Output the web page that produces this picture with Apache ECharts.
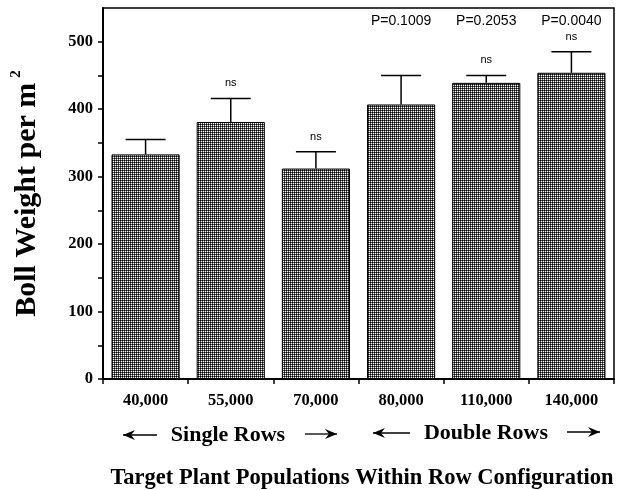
<!DOCTYPE html>
<html><head><meta charset="utf-8">
<script src="https://cdn.jsdelivr.net/npm/echarts@6/dist/echarts.min.js"></script>
<style>html,body{margin:0;padding:0;background:#fff}#c{width:621px;height:490px}</style>
</head><body><div id="c"></div>
<script>
var categories = ['40,000','55,000','70,000','80,000','110,000','140,000'];
var means = [333, 381, 312, 407, 439, 454];
var errorTops = [355, 416, 337, 450, 450, 485];
var nsLabels = ['', 'ns', 'ns', '', 'ns', 'ns'];
var pLabels = ['', '', '', 'P=0.1009', 'P=0.2053', 'P=0.0040'];
var yTickLabels = [0, 100, 200, 300, 400, 500];
var yTickMarks = [0, 50, 100, 150, 200, 250, 300, 350, 400, 450, 500];
var groupLabels = ['Single Rows', 'Double Rows'];

var serif = '"Liberation Serif","Times New Roman",serif';
var sans = '"Liberation Sans",Arial,sans-serif';

// dithered gray pattern
var pc = document.createElement('canvas');
pc.width = 2; pc.height = 2;
var pctx = pc.getContext('2d');
pctx.fillStyle = '#000000'; pctx.fillRect(0,0,1,1);
pctx.fillStyle = '#ffffff'; pctx.fillRect(1,1,1,1);
pctx.fillStyle = '#555555'; pctx.fillRect(1,0,1,1); pctx.fillRect(0,1,1,1);

var chart = echarts.init(document.getElementById('c'), null, {renderer:'canvas'});
var errData = means.map(function(m,i){ return [i, m, errorTops[i]]; });

function arrow(x1, x2, y, dir) {
  // dir: -1 points left, 1 points right
  var tip = dir < 0 ? x1 : x2;
  var back = tip - dir * 11;
  return [
    {type:'line', shape:{x1: x1, y1: y, x2: x2, y2: y}, style:{stroke:'#000', lineWidth:1.3}},
    {type:'polygon', shape:{points:[[tip, y], [back - dir*1, y-5], [back + dir*3, y], [back - dir*1, y+5]]}, style:{fill:'#000'}}
  ];
}

var graphics = [].concat(
  arrow(123, 157, 435, -1),
  arrow(305, 337, 434, 1),
  arrow(373, 410, 433, -1),
  arrow(567, 600, 432, 1),
  [
    {type:'text', x: 228, y: 435, style:{text: groupLabels[0], align:'center', verticalAlign:'middle', font:'bold 22px ' + serif, fill:'#000'}},
    {type:'text', x: 486, y: 433, style:{text: groupLabels[1], align:'center', verticalAlign:'middle', font:'bold 22px ' + serif, fill:'#000'}},
    {type:'text', x: 362, y: 478, style:{text:'Target Plant Populations Within Row Configuration', align:'center', verticalAlign:'middle', font:'bold 22.5px ' + serif, fill:'#000'}}
  ]
);

chart.setOption({
  animation: false,
  grid: {left: 103, right: 7, top: 8, bottom: 111, containLabel: false, outerBoundsMode: 'none', show: true, borderColor: '#000', borderWidth: 1.5, backgroundColor: 'transparent'},
  xAxis: {
    type: 'category', data: categories,
    axisLine: {lineStyle: {color: '#000', width: 2}},
    axisTick: {show: true, length: 5, lineStyle: {color: '#000', width: 1.5}},
    axisLabel: {color: '#000', fontFamily: serif, fontWeight: 'bold', fontSize: 16.5, margin: 13},
    splitLine: {show: false}
  },
  yAxis: {
    type: 'value', min: 0, max: 550,
    name: '{a|Boll Weight per m}{b|2}',
    nameLocation: 'middle', nameRotate: 90, nameGap: 61,
    nameTextStyle: {
      rich: {
        a: {fontFamily: serif, fontWeight: 'bold', fontSize: 30, color: '#000', lineHeight: 33, verticalAlign: 'bottom'},
        b: {fontFamily: serif, fontWeight: 'bold', fontSize: 15, color: '#000', lineHeight: 33, verticalAlign: 'top', padding: [0,0,0,5]}
      }
    },
    axisLine: {show: true, lineStyle: {color: '#000', width: 2}},
    axisTick: {show: true, length: 5, customValues: yTickMarks, lineStyle: {color: '#000', width: 1.5}},
    axisLabel: {color: '#000', fontFamily: serif, fontWeight: 'bold', fontSize: 16.5, margin: 10, customValues: yTickLabels},
    splitLine: {show: false}
  },
  series: [
    {
      type: 'bar', data: means, barCategoryGap: '20%',
      itemStyle: {color: {image: pc, repeat: 'repeat'}, borderColor: '#000', borderWidth: 1}
    },
    {
      type: 'custom', data: errData, z: 5,
      renderItem: function(params, api){
        var i = api.value(0);
        var base = api.coord([i, api.value(1)]);
        var top = api.coord([i, api.value(2)]);
        var half = 20;
        var children = [
          {type:'line', shape:{x1: base[0], y1: base[1], x2: top[0], y2: top[1]}, style:{stroke:'#000', lineWidth:1.5}},
          {type:'line', shape:{x1: top[0]-half, y1: top[1], x2: top[0]+half, y2: top[1]}, style:{stroke:'#000', lineWidth:1.5}}
        ];
        var ns = nsLabels[params.dataIndex];
        if (ns) children.push({type:'text', style:{text: ns, x: top[0], y: top[1]-15, align:'center', verticalAlign:'middle', font: '11px ' + sans, fill:'#000'}});
        var p = pLabels[params.dataIndex];
        if (p) {
          var py = api.coord([i, 530])[1];
          children.push({type:'text', style:{text: p, x: top[0], y: py, align:'center', verticalAlign:'middle', font: '14px ' + sans, fill:'#000'}});
        }
        return {type:'group', children: children};
      }
    }
  ],
  graphic: graphics
});
</script>
</body></html>
